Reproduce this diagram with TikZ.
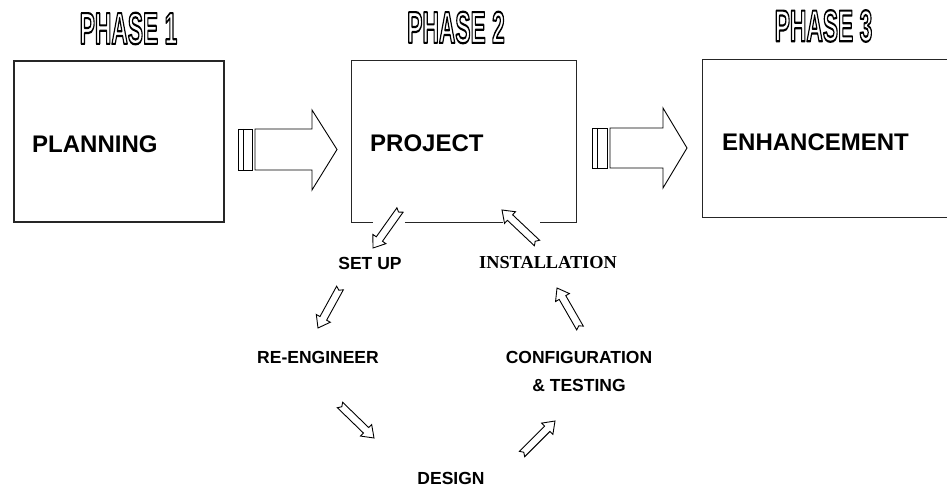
\documentclass[tikz,border=0pt]{standalone}
\usepackage{fontspec}
\setmainfont{Liberation Sans}
\newfontfamily\serifbold{Liberation Serif}
\usetikzlibrary{calc}

\tikzset{
  boxline/.style={line width=1.1pt, black!85},
  boxlabel/.style={font=\fontsize{24}{24}\selectfont\bfseries, inner sep=0pt, anchor=west},
  steplabel/.style={font=\fontsize{17.5}{28}\selectfont\bfseries, inner sep=0pt, align=center},
  phasetxt/.style={font=\fontsize{44.7}{44.7}\selectfont\bfseries, inner sep=0pt},
  smallarrow/.style={line width=0.9pt, black, line join=miter, fill=white},
  bigarrow/.style={line width=0.9pt, black, fill=white, line join=miter},
  spacer/.style={inner sep=0pt, minimum size=0pt}
}

\newcommand\hollowarrow[2]{%
  \path let \p1=($(#2)-(#1)$), \n1={atan2(\y1,\x1)}, \n2={veclen(\x1,\y1)} in
    \pgfextra{\xdef\harang{\n1}\xdef\harlen{\n2}};
  \begin{scope}[shift={(#1)}, rotate=\harang]
    \draw[smallarrow] (0,-3.8) -- ({\harlen-11},-3.8) -- ({\harlen-11},-8)
      -- (\harlen,0) -- ({\harlen-11},8) -- ({\harlen-11},3.8) -- (0,3.8)
      -- (2.5,0) -- cycle;
  \end{scope}}

% outlined (white fill, black stroke) phase title
\newcommand\outlined[1]{%
  \special{pdf:literal direct 1 g 0 G 2.2 w 1 j 2 Tr}#1\special{pdf:literal direct 0 Tr 0 g}}

% big block arrow: #1 bars left, #2 bars right, #3 shaft end, #4 tip x,
% #5 shaft top, #6 shaft bottom, #7 head top, #8 head bottom
\newcommand\bigblockarrow[8]{%
  \fill[black] (#1,#5) rectangle ({#1+2.8},#6);
  \draw[bigarrow] (#1,#5) rectangle (#2,#6);
  \draw[line width=0.9pt] ({#1+5.5},#5) -- ({#1+5.5},#6);
  \draw[bigarrow] ({#2+3},#5) -- (#3,#5) -- (#3,#7) -- (#4,{(#5+#6)/2})
     -- (#3,#8) -- (#3,#6) -- ({#2+3},#6) -- cycle;}

\begin{document}
\begin{tikzpicture}[x=1pt,y=-1pt]
\useasboundingbox[fill=white] (0,0) rectangle (947,489);

% phase titles
\node[phasetxt] (phase1) at (128.5,28.5) {\scalebox{0.51}[1]{\outlined{PHASE 1}}};
\node[phasetxt] (phase2) at (456,27.5) {\scalebox{0.51}[1]{\outlined{PHASE 2}}};
\node[phasetxt] (phase3) at (823.5,26) {\scalebox{0.51}[1]{\outlined{PHASE 3}}};

% boxes
\node[spacer, minimum width=210pt, minimum height=161pt, draw, boxline] (box1) at (119,141.5) {};
\node[spacer, minimum width=224pt, minimum height=161pt] (box2) at (464,141.5) {};
\draw[boxline] (box2.south west) ++(21,0) -| (box2.north west) -| (box2.south east) -- ++(-36,0);
\draw[boxline] ($(box2.south west)+(53,0)$) -- ($(box2.south west)+(151,0)$);
\node[spacer, minimum width=246pt, minimum height=157pt] (box3) at (826,138.5) {};
\draw[boxline] (box3.north east) -- (box3.north west) -- (box3.south west) -- (box3.south east);

\node[boxlabel] (planning) at (32,144) {PLANNING};
\node[boxlabel] (project) at (370,143) {PROJECT};
\node[boxlabel] (enhance) at (722,142) {ENHANCEMENT};

% big arrows between phases
\bigblockarrow{238}{252}{312}{337}{129}{170}{110}{190}
\bigblockarrow{592}{607}{663}{687}{128}{168}{108}{188}

% cycle labels
\node[steplabel] (setup) at (370,263) {SET UP};
\node[steplabel, font=\fontsize{18.3}{18.3}\selectfont\serifbold\bfseries] (install) at (548,263) {INSTALLATION};
\node[steplabel] (reeng) at (318,357) {RE-ENGINEER};
\node[steplabel] (config) at (579,371) {CONFIGURATION\\\& TESTING};
\node[steplabel] (design) at (451,478) {DESIGN};

% small hollow arrows
\coordinate (a1t) at (400,210); \coordinate (a1h) at (373,248);
\coordinate (a2t) at (340,288); \coordinate (a2h) at (318,328);
\coordinate (a3t) at (340,405); \coordinate (a3h) at (374,438);
\coordinate (a4t) at (522,454); \coordinate (a4h) at (555,421);
\coordinate (a5t) at (580,328); \coordinate (a5h) at (557,288);
\coordinate (a6t) at (537,243); \coordinate (a6h) at (502,210);
\hollowarrow{a1t}{a1h}
\hollowarrow{a2t}{a2h}
\hollowarrow{a3t}{a3h}
\hollowarrow{a4t}{a4h}
\hollowarrow{a5t}{a5h}
\hollowarrow{a6t}{a6h}
\end{tikzpicture}
\end{document}
